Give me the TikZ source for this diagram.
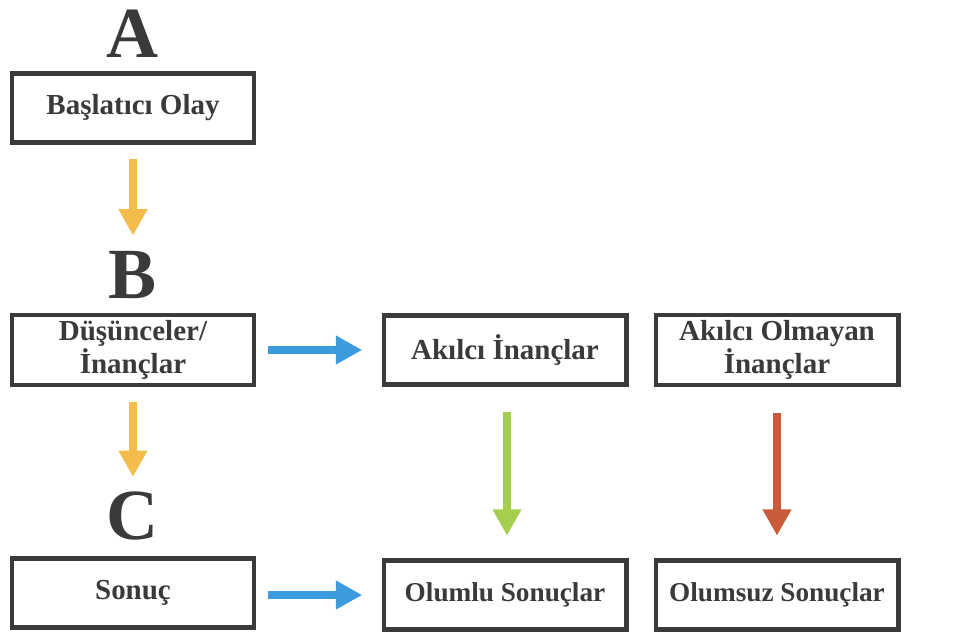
\documentclass[tikz,border=0pt]{standalone}
\usepackage{fontspec}
\setmainfont{Liberation Serif}
\usepackage{xcolor}
\usetikzlibrary{arrows.meta,positioning}

\definecolor{boxgrey}{HTML}{3A3A3A}
\definecolor{ayellow}{HTML}{F3BC4B}
\definecolor{ablue}{HTML}{3B9BDC}
\definecolor{agreen}{HTML}{A6CE4E}
\definecolor{ared}{HTML}{C95B3A}

\begin{document}
\begin{tikzpicture}[x=0.02cm, y=-0.02cm, text=boxgrey,
	box/.style={draw=boxgrey, line width=2.3pt, minimum width=4.86cm, minimum height=1.38cm, align=center, font=\bfseries\fontsize{16.5}{14.5}\selectfont},
	letter/.style={inner sep=0pt, anchor=base, font=\bfseries\fontsize{41}{41}\selectfont},
	flow/.style={line width=4.5pt, -{Triangle[width=15.5pt, length=15pt]}}]
	\useasboundingbox (0,0) rectangle (954,639);

	\node ({A}) [letter] at (133, 57) {A};
	\node ({B}) [letter] at (133, 298) {B};
	\node ({C}) [letter] at (133, 539) {C};

	\node ({baslat}) [box] at (133, 108) {Başlatıcı Olay};
	\node ({dusunce}) [box] at (133, 350) {Düşünceler/\\İnançlar};
	\node ({sonuc}) [box] at (133, 593) {Sonuç};
	\node ({akilci}) [box] at (505, 350) {Akılcı İnançlar};
	\node ({akilcidegil}) [box] at (777, 350) {Akılcı Olmayan\\İnançlar};
	\node ({olumlu}) [box, font=\bfseries\fontsize{15.5}{14.5}\selectfont] at (505, 595) {Olumlu Sonuçlar};
	\node ({olumsuz}) [box, font=\bfseries\fontsize{15.5}{14.5}\selectfont] at (777, 595) {Olumsuz Sonuçlar};

	\draw [flow, ayellow, shorten <=8.5pt, shorten >=8.5pt] (baslat.south) -- (B.north);
	\draw [flow, ayellow, shorten <=8.5pt, shorten >=8pt] (dusunce.south) -- (C.north);
	\draw [flow, ablue, shorten <=6.5pt, shorten >=11pt] (dusunce.east) -- (akilci.west);
	\draw [flow, ablue, shorten <=6.5pt, shorten >=11pt] (sonuc.east |- olumlu.west) -- (olumlu.west);
	\draw [flow, agreen, shorten <=14.5pt, shorten >=13pt] ([xshift=0.04cm]akilci.south) -- ([xshift=0.04cm]olumlu.north);
	\draw [flow, ared, shorten <=14.5pt, shorten >=13pt] (akilcidegil.south) -- (olumsuz.north);
\end{tikzpicture}
\end{document}
